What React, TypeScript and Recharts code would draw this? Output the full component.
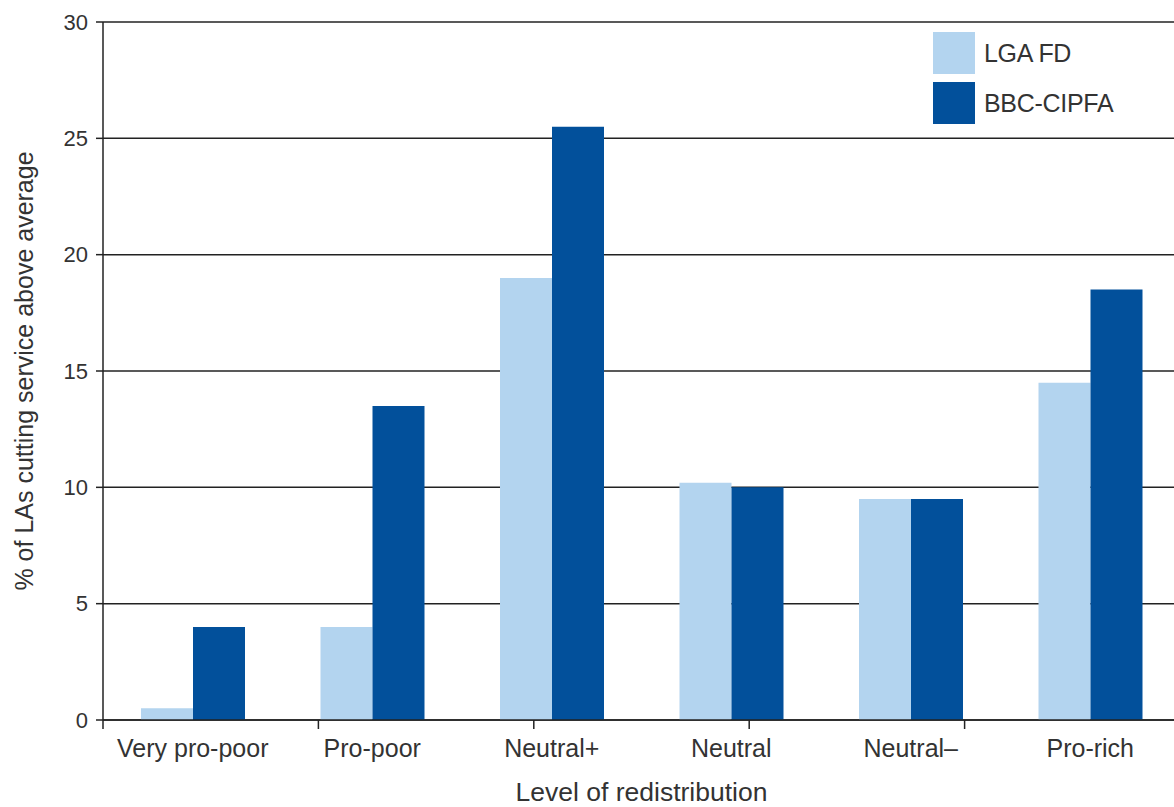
import { BarChart, Bar, XAxis, YAxis, CartesianGrid, Legend, Label } from 'recharts';

const categories = ['Very pro-poor', 'Pro-poor', 'Neutral+', 'Neutral', 'Neutral–', 'Pro-rich'];
const lgaFd = [0.5, 4, 19, 10.2, 9.5, 14.5];
const bbcCipfa = [4, 13.5, 25.5, 10, 9.5, 18.5];
const yTicks = [0, 5, 10, 15, 20, 25, 30];

const series = [
  { key: 'lga', name: 'LGA FD', color: '#b3d4ef' },
  { key: 'bbc', name: 'BBC-CIPFA', color: '#02509b' },
];

const data = categories.map((name, i) => ({ name, lga: lgaFd[i], bbc: bbcCipfa[i] }));
// category boundaries for the tick marks under the x axis
const edgeTicks = categories.map((_, i) => i).concat(categories.length);

const FONT = '"Liberation Sans", Arial, sans-serif';
const TEXT = '#333';
const AXIS = '#222';

function LegendBox() {
  return (
    <div style={{ fontFamily: FONT }}>
      {series.map((s) => (
        <div key={s.key} style={{ display: 'flex', alignItems: 'center', height: 42, marginBottom: 8 }}>
          <div style={{ width: 42, height: 42, background: s.color, marginRight: 9 }} />
          <span style={{ fontSize: 25, color: TEXT, letterSpacing: -0.3 }}>{s.name}</span>
        </div>
      ))}
    </div>
  );
}

export default function App() {
  return (
    <div style={{ position: 'absolute', left: 0, top: 0, width: 1174, height: 807, overflow: 'hidden', background: '#fff' }}>
      <BarChart
        width={1182}
        height={807}
        data={data}
        margin={{ top: 22, right: 2, left: 0, bottom: 0 }}
        barGap={0}
        barSize={52}
      >
        <CartesianGrid vertical={false} stroke={AXIS} strokeWidth={1.5} />
        <XAxis
          xAxisId="cat"
          dataKey="name"
          height={86}
          axisLine={false}
          tickLine={false}
          tickSize={0}
          tickMargin={18}
          tick={{ fontSize: 25, fill: TEXT, fontFamily: FONT }}
        >
          <Label
            value="Level of redistribution"
            position="insideBottom"
            offset={6}
            style={{ fontSize: 26.5, fill: TEXT, fontFamily: FONT }}
          />
        </XAxis>
        <XAxis
          xAxisId="aEdges"
          type="number"
          domain={[0, categories.length]}
          ticks={edgeTicks}
          interval={0}
          height={1}
          tickSize={9}
          tickFormatter={() => ''}
          axisLine={{ stroke: AXIS, strokeWidth: 1.5 }}
          tickLine={{ stroke: AXIS, strokeWidth: 1.5 }}
        />
        <YAxis
          domain={[0, 30]}
          ticks={yTicks}
          width={103}
          tickSize={7}
          tickMargin={8}
          axisLine={{ stroke: AXIS, strokeWidth: 1.5 }}
          tickLine={{ stroke: AXIS, strokeWidth: 1.5 }}
          tick={{ fontSize: 22, fill: TEXT, fontFamily: FONT }}
        >
          <Label
            value="% of LAs cutting service above average"
            angle={-90}
            position="insideLeft"
            offset={24}
            style={{ fontSize: 25, fill: TEXT, fontFamily: FONT, textAnchor: 'middle' }}
          />
        </YAxis>
        <Legend
          layout="horizontal"
          verticalAlign="middle"
          align="center"
          content={() => <LegendBox />}
          wrapperStyle={{ top: 32, left: 933, width: 240 }}
        />
        {series.map((s) => (
          <Bar key={s.key} xAxisId="cat" dataKey={s.key} name={s.name} fill={s.color} isAnimationActive={false} />
        ))}
      </BarChart>
    </div>
  );
}
